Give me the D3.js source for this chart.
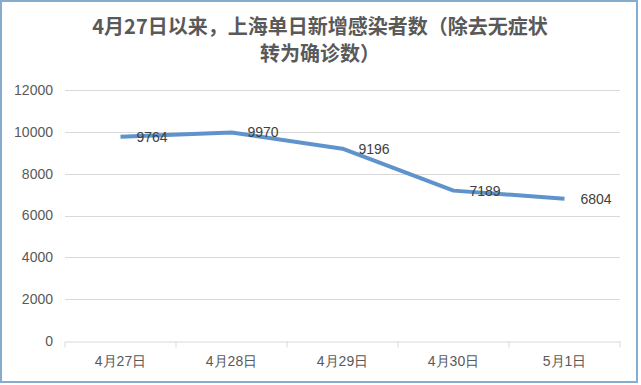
<!DOCTYPE html>
<html>
<head>
<meta charset="utf-8">
<script src="https://cdn.jsdelivr.net/npm/d3@7"></script>
<style>
  body { margin: 0; background: #fff; }
  svg { display: block; font-family: "Noto Sans CJK SC", "Liberation Sans", sans-serif; }
</style>
</head>
<body>
<svg id="chart" width="641" height="385"></svg>
<script>
// chart data
const dates = ["4月27日", "4月28日", "4月29日", "4月30日", "5月1日"];
const cases = [9764, 9970, 9196, 7189, 6804];
const yTicks = [0, 2000, 4000, 6000, 8000, 10000, 12000];
const titleLines = ["4月27日以来，上海单日新增感染者数（除去无症状", "转为确诊数）"];

const svg = d3.select("#chart");
const margin = {top: 90, right: 21, bottom: 44, left: 65};
const width = 641, height = 385;

// outer frame
svg.append("rect")
  .attr("x", 1).attr("y", 1)
  .attr("width", 636).attr("height", 381)
  .attr("fill", "#fff")
  .attr("stroke", "#86acd0")
  .attr("stroke-width", 2);

// title
svg.append("g").selectAll("text")
  .data(titleLines)
  .enter().append("text")
  .attr("x", 320)
  .attr("y", (d, i) => 34 + i * 27)
  .attr("text-anchor", "middle")
  .attr("font-size", 20)
  .attr("font-weight", "bold")
  .attr("fill", "#595959")
  .text(d => d);

const x = d3.scaleBand()
  .domain(dates)
  .range([margin.left, width - margin.right]);

const y = d3.scaleLinear()
  .domain([0, 12000])
  .range([height - margin.bottom, margin.top]);

// gridlines
svg.append("g")
  .selectAll("line")
  .data(yTicks.slice(1))
  .enter().append("line")
  .attr("x1", margin.left).attr("x2", width - margin.right)
  .attr("y1", d => Math.round(y(d)) + 0.5).attr("y2", d => Math.round(y(d)) + 0.5)
  .attr("stroke", "#d9d9d9")
  .attr("stroke-width", 1);

// y axis
const yAxis = d3.axisLeft(y).tickValues(yTicks).tickFormat(d3.format("d")).tickSize(0).tickPadding(12);
svg.append("g")
  .attr("transform", `translate(${margin.left},0)`)
  .call(yAxis)
  .call(g => g.select(".domain").remove())
  .call(g => g.selectAll("text").attr("font-size", 14).attr("fill", "#595959")
    .attr("font-family", "Liberation Sans, sans-serif"));

// x axis
const xAxis = d3.axisBottom(x).tickSize(0).tickPadding(15);
const gx = svg.append("g")
  .attr("transform", `translate(0,${Math.round(y(0)) + 0.5})`)
  .call(xAxis);
gx.select(".domain").attr("stroke", "#d9d9d9");
gx.selectAll("text").attr("font-size", 14).attr("fill", "#595959");
// category separator ticks
gx.selectAll(".sep")
  .data(dates.concat([null]))
  .enter().append("line")
  .attr("class", "sep")
  .attr("x1", (d, i) => margin.left + i * x.bandwidth())
  .attr("x2", (d, i) => margin.left + i * x.bandwidth())
  .attr("y1", 0).attr("y2", 6)
  .attr("stroke", "#d9d9d9");

// line
const line = d3.line()
  .x((d, i) => x(dates[i]) + x.bandwidth() / 2)
  .y(d => y(d));

svg.append("path")
  .datum(cases)
  .attr("d", line)
  .attr("fill", "none")
  .attr("stroke", "#5f93cb")
  .attr("stroke-width", 4)
  .attr("stroke-linejoin", "round")
  .attr("stroke-linecap", "butt");

// data labels
svg.append("g").selectAll("text")
  .data(cases)
  .enter().append("text")
  .attr("x", (d, i) => x(dates[i]) + x.bandwidth() / 2 + 16)
  .attr("y", d => y(d))
  .attr("dy", "0.35em")
  .attr("font-size", 14)
  .attr("font-family", "Liberation Sans, sans-serif")
  .attr("fill", "#404040")
  .text(d => d);
</script>
</body>
</html>
